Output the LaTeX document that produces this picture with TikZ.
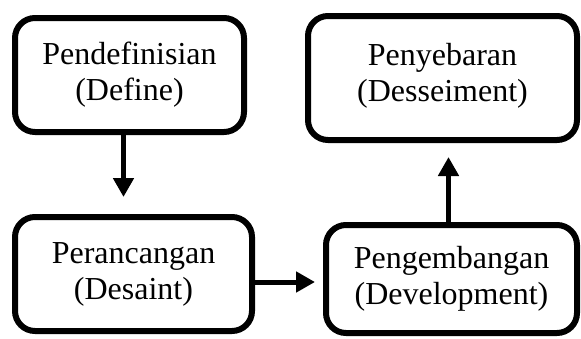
\documentclass[tikz,border=0pt]{standalone}
\usepackage{fontspec}
\setmainfont{Liberation Serif}
\usetikzlibrary{arrows.meta, positioning}

\begin{document}
\begin{tikzpicture}[
    x=1pt, y=-1pt,
    font=\fontsize{32}{36}\selectfont,
    >={Triangle[length=19pt, width=20pt]},
    stage/.style={
        draw,
        line width=6pt,
        rounded corners=20pt,
        align=center,
        inner sep=0pt
    },
    arrow/.style={->, line width=5pt}
]
\useasboundingbox (0,0) rectangle (581,338);

% Tahap 1 dan 2
\node[stage, minimum width=229pt, minimum height=114pt] (defn) at (129.5, 75) {
    Pendefinisian\\
    (Define)
};

\node[stage, minimum width=237pt, minimum height=114pt] (dsgn) at (133.5, 274) {
    Perancangan\\
    (Desaint)
};

% Tahap 3 dan 4
\node[stage, minimum width=251pt, minimum height=108pt] (devl) at (451.5, 279) {
    Pengembangan\\
    (Development)
};

\node[stage, minimum width=269pt, minimum height=124pt, text depth=12pt] (dssm) at (442.5, 78) {
    Penyebaran\\
    (Desseiment)
};

\draw[arrow, shorten >=17pt] ([xshift=-6pt]defn.south) -- ([xshift=-6pt]defn.south |- dsgn.north);
\draw[arrow, shorten >=8pt] ([yshift=-8pt]dsgn.east) -- ([yshift=-8pt]dsgn.east -| devl.west);
\draw[arrow, shorten >=14pt] ([xshift=-3pt]devl.north) -- ([xshift=-3pt]devl.north |- dssm.south);

\end{tikzpicture}
\end{document}
